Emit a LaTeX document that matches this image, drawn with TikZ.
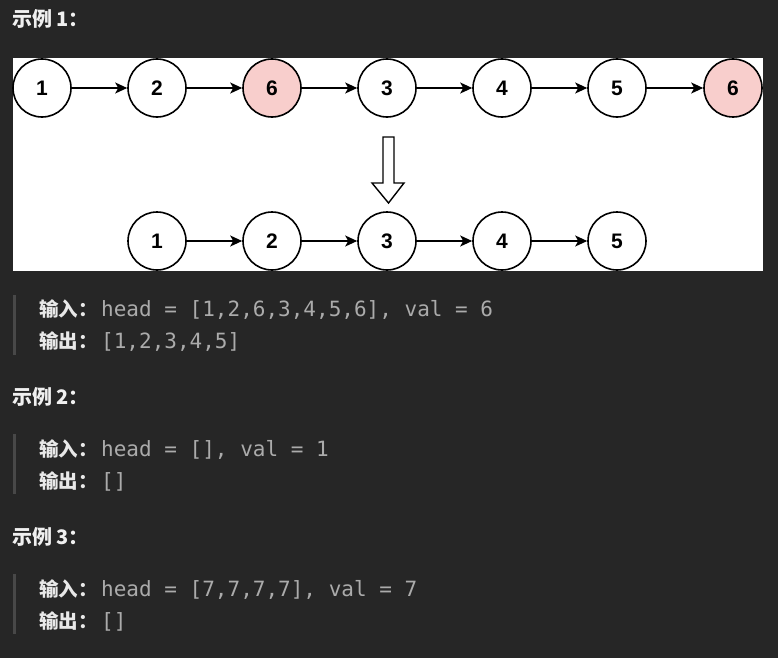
\documentclass[tikz,border=0pt]{standalone}
\usepackage{fontspec}
\usetikzlibrary{arrows.meta}
\newfontfamily\cjk{Noto Sans CJK SC}
\newfontfamily\codefont{DejaVu Sans Mono}
\newfontfamily\numfont{Liberation Sans}
\definecolor{bg}{HTML}{262626}
\definecolor{hdr}{HTML}{F0F0F0}
\definecolor{lbl}{HTML}{E8E8E8}
\definecolor{codec}{HTML}{ABABAB}
\definecolor{barc}{HTML}{484848}
\definecolor{pinkf}{HTML}{F8CECC}
\tikzset{
  lnode/.style={circle, draw=black, line width=1.6pt, fill=white, minimum size=58pt, inner sep=0pt,
    font=\numfont\bfseries\fontsize{21}{21}\selectfont},
  rmnode/.style={lnode, fill=pinkf},
  link/.style={line width=1.4pt, -{Stealth[length=12pt,width=11pt,inset=3pt]}},
  header/.style={anchor=base west, inner sep=0pt, text=hdr, font=\cjk\bfseries\fontsize{20}{20}\selectfont},
  label/.style={anchor=base west, inner sep=0pt, text=lbl, font=\cjk\bfseries\fontsize{19.5}{19.5}\selectfont},
  code/.style={anchor=base west, inner sep=0pt, text=codec, font=\codefont\fontsize{21}{21}\selectfont},
  quotebar/.style={fill=barc}
}
\begin{document}
\begin{tikzpicture}[x=1pt,y=-1pt]
\useasboundingbox (0,0) rectangle (778,658);
\fill[bg] (0,0) rectangle (778,658);
% example 1
\node[header] (h1) at (12,27) {示例 1：};
\fill[white] (13,58) rectangle (763,271);
\node[lnode] (a1) at (42,88) {1};
\node[lnode] (a2) at (157,88) {2};
\node[rmnode] (a3) at (272,88) {6};
\node[lnode] (a4) at (387,88) {3};
\node[lnode] (a5) at (502,88) {4};
\node[lnode] (a6) at (617,88) {5};
\node[rmnode] (a7) at (733,88) {6};
\foreach \i/\j in {a1/a2,a2/a3,a3/a4,a4/a5,a5/a6,a6/a7} \draw[link] (\i) -- (\j);
\draw[line width=1.4pt, fill=white, line join=miter]
  (383,137) -- (394,137) -- (394,183) -- (404,183) -- (388.5,203) -- (372,183) -- (383,183) -- cycle;
\node[lnode] (b1) at (157,241) {1};
\node[lnode] (b2) at (272,241) {2};
\node[lnode] (b3) at (387,241) {3};
\node[lnode] (b4) at (502,241) {4};
\node[lnode] (b5) at (617,241) {5};
\foreach \i/\j in {b1/b2,b2/b3,b3/b4,b4/b5} \draw[link] (\i) -- (\j);
\fill[quotebar] (13,295) rectangle (16,355);
\node[label] (in1) at (39,316) {输入：};
\node[code] (ic1) at (101,316) {head = [1,2,6,3,4,5,6], val = 6};
\node[label] (out1) at (39,348) {输出：};
\node[code] (oc1) at (101,348) {[1,2,3,4,5]};
% example 2
\node[header] (h2) at (12,404) {示例 2：};
\fill[quotebar] (13,434) rectangle (16,494);
\node[label] (in2) at (39,456) {输入：};
\node[code] (ic2) at (101,456) {head = [], val = 1};
\node[label] (out2) at (39,488) {输出：};
\node[code] (oc2) at (101,488) {[]};
% example 3
\node[header] (h3) at (12,544) {示例 3：};
\fill[quotebar] (13,574) rectangle (16,634);
\node[label] (in3) at (39,596) {输入：};
\node[code] (ic3) at (101,596) {head = [7,7,7,7], val = 7};
\node[label] (out3) at (39,628) {输出：};
\node[code] (oc3) at (101,628) {[]};
\end{tikzpicture}
\end{document}
